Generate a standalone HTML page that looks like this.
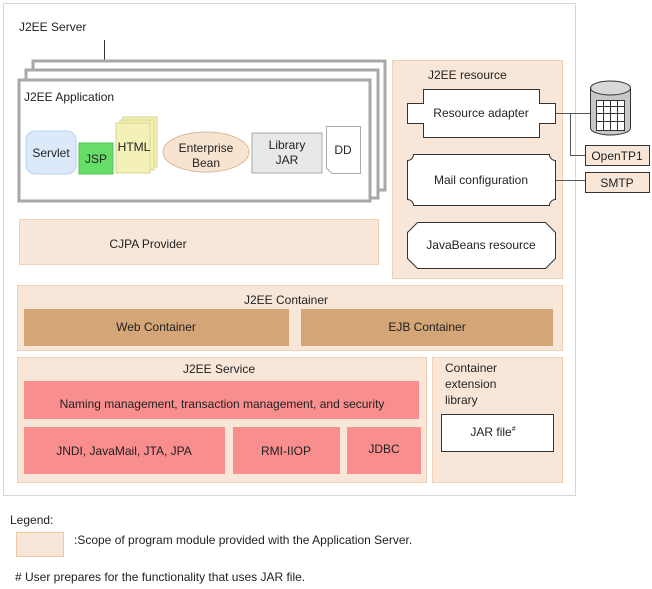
<!DOCTYPE html>
<html><head><meta charset="utf-8"><style>
html,body{margin:0;padding:0;background:#fff;}
svg{display:block;}
text{font-family:"Liberation Sans",sans-serif;font-size:12px;fill:#222;}
</style></head><body>
<svg width="652" height="589" viewBox="0 0 652 589" xmlns="http://www.w3.org/2000/svg">
<rect x="3.5" y="3.5" width="572" height="492" fill="#fff" stroke="#d8d8d8"/>
<text x="19" y="31">J2EE Server</text>
<line x1="104.5" y1="40" x2="104.5" y2="61" stroke="#333"/>
<rect x="33" y="61" width="352" height="129" fill="#fff" stroke="#a8a8a8" stroke-width="3"/>
<rect x="26" y="70" width="352" height="128" fill="#fff" stroke="#a8a8a8" stroke-width="3"/>
<rect x="19" y="80" width="351" height="121" fill="#fff" stroke="#a8a8a8" stroke-width="3"/>
<text x="24" y="101">J2EE Application</text>
<rect x="26" y="131" width="50" height="43" rx="9" fill="#dbe9fb" stroke="#b9d2f0"/>
<text x="51" y="157" text-anchor="middle">Servlet</text>
<rect x="79" y="143" width="34" height="31" fill="#66dd66" stroke="#55c455"/>
<text x="96" y="163" text-anchor="middle" font-size="11.5">JSP</text>
<rect x="123" y="117" width="34" height="50" fill="#f3f0b8" stroke="#d8d48a"/>
<rect x="120" y="120" width="34" height="50" fill="#f3f0b8" stroke="#d8d48a"/>
<rect x="116" y="123" width="34" height="50" fill="#f3f0b8" stroke="#d8d48a"/>
<text x="134" y="151" text-anchor="middle">HTML</text>
<ellipse cx="206" cy="152" rx="43" ry="20" fill="#f8e3d1" stroke="#d9b99b"/>
<text x="206" y="152" text-anchor="middle">Enterprise</text>
<text x="206" y="167" text-anchor="middle">Bean</text>
<rect x="252" y="133" width="70" height="40" fill="#e8e8e8" stroke="#aaa"/>
<text x="287" y="149" text-anchor="middle">Library</text>
<text x="287" y="164" text-anchor="middle">JAR</text>
<path d="M326.5 126.5 H360.5 V173.5 H332 L326.5 168 Z" fill="#fff" stroke="#aaa"/>
<text x="343" y="154" text-anchor="middle" font-size="11.5">DD</text>
<rect x="19.5" y="219.5" width="359" height="45" fill="#f8e7d8" stroke="#f0d2b8"/>
<text x="148" y="248" text-anchor="middle">CJPA Provider</text>
<rect x="392.5" y="60.5" width="170" height="218" fill="#f8e7d8" stroke="#f0d2b8"/>
<text x="428" y="79">J2EE resource</text>
<path d="M423.5 89.5 H539.5 V103.5 H555.5 V123.5 H539.5 V137.5 H423.5 V123.5 H407.5 V103.5 H423.5 Z" fill="#fff" stroke="#333"/>
<text x="481" y="117" text-anchor="middle">Resource adapter</text>
<path d="M413.5 154.5 H549.5 A6 6 0 0 0 555.5 160.5 V199.5 A6 6 0 0 0 549.5 205.5 H413.5 A6 6 0 0 0 407.5 199.5 V160.5 A6 6 0 0 0 413.5 154.5 Z" fill="#fff" stroke="#333"/>
<text x="481" y="184" text-anchor="middle">Mail configuration</text>
<path d="M417.5 222.5 H545.5 L555.5 232.5 V258.5 L545.5 268.5 H417.5 L407.5 258.5 V232.5 Z" fill="#fff" stroke="#333"/>
<text x="481" y="249" text-anchor="middle">JavaBeans resource</text>
<path d="M555.5 113.5 H590 M570.5 113.5 V155.5 H585" fill="none" stroke="#555"/>
<line x1="555" y1="180.5" x2="585" y2="180.5" stroke="#555"/>
<path d="M590.5 88 V128 A20 7 0 0 0 630.5 128 V88" fill="#c8c8c8" stroke="#333"/>
<ellipse cx="610.5" cy="88" rx="20" ry="7" fill="#d8d8d8" stroke="#333"/>
<rect x="596.5" y="100.5" width="28" height="30" fill="#fff" stroke="#333"/>
<path d="M596.5 106.5 H624.5 M596.5 113.5 H624.5 M596.5 121.5 H624.5 M603.5 100.5 V130.5 M610.5 100.5 V130.5 M617.5 100.5 V130.5" stroke="#333" fill="none"/>
<rect x="585.5" y="145.5" width="64" height="20" fill="#f8e7d8" stroke="#333"/>
<text x="617" y="160" text-anchor="middle">OpenTP1</text>
<rect x="585.5" y="172.5" width="64" height="20" fill="#f8e7d8" stroke="#333"/>
<text x="617" y="187" text-anchor="middle">SMTP</text>
<rect x="17.5" y="285.5" width="545" height="65" fill="#f8e7d8" stroke="#f0d2b8"/>
<text x="286" y="304" text-anchor="middle">J2EE Container</text>
<rect x="24" y="309" width="265" height="37" fill="#d4a677"/>
<text x="156" y="331" text-anchor="middle">Web Container</text>
<rect x="301" y="309" width="252" height="37" fill="#d4a677"/>
<text x="427" y="331" text-anchor="middle">EJB Container</text>
<rect x="17.5" y="357.5" width="409" height="125" fill="#f8e7d8" stroke="#f0d2b8"/>
<text x="219" y="373" text-anchor="middle">J2EE Service</text>
<rect x="24" y="381" width="395" height="38" fill="#f88e8e"/>
<text x="222" y="408" text-anchor="middle">Naming management, transaction management, and security</text>
<rect x="24" y="427" width="201" height="47" fill="#f88e8e"/>
<text x="124" y="455" text-anchor="middle">JNDI, JavaMail, JTA, JPA</text>
<rect x="233" y="427" width="107" height="47" fill="#f88e8e"/>
<text x="286" y="455" text-anchor="middle">RMI-IIOP</text>
<rect x="347" y="427" width="74" height="47" fill="#f88e8e"/>
<text x="384" y="453" text-anchor="middle">JDBC</text>
<rect x="432.5" y="357.5" width="130" height="125" fill="#f8e7d8" stroke="#f0d2b8"/>
<text x="445" y="372">Container</text>
<text x="445" y="388">extension</text>
<text x="445" y="404">library</text>
<rect x="441.5" y="414.5" width="112" height="37" fill="#fff" stroke="#333"/>
<text x="493" y="436" text-anchor="middle">JAR file<tspan font-size="7" dy="-5">#</tspan></text>
<text x="10" y="524">Legend:</text>
<rect x="16.5" y="532.5" width="47" height="24" fill="#f8e7d8" stroke="#f0c8a0"/>
<text x="74" y="544">:Scope of program module provided with the Application Server.</text>
<text x="15" y="581"># User prepares for the functionality that uses JAR file.</text>
</svg>
</body></html>
